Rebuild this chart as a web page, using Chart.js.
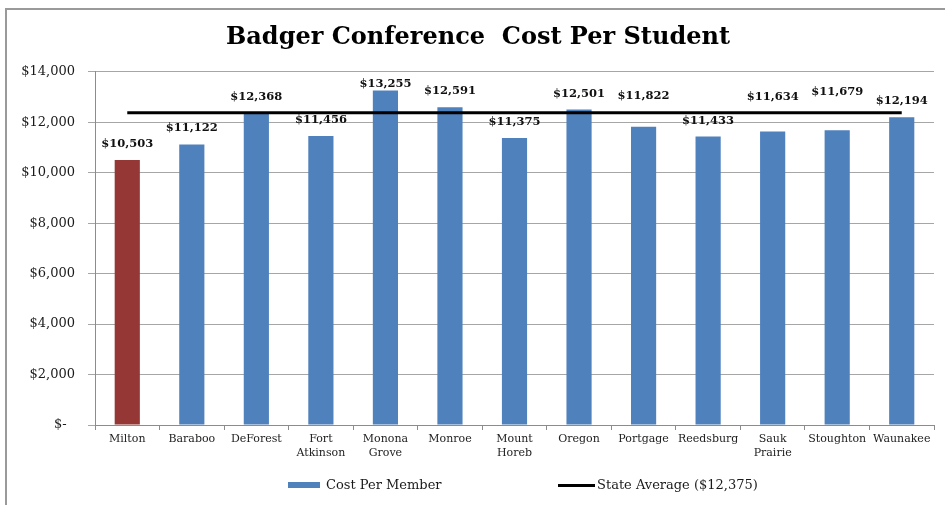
<!DOCTYPE html>
<html>
<head>
<meta charset="utf-8">
<title>Badger Conference Cost Per Student</title>
<script src="https://cdn.jsdelivr.net/npm/chart.js@4/dist/chart.umd.min.js"></script>
<style>
  html, body { margin: 0; padding: 0; background: #fff; }
  #wrap { position: relative; width: 945px; height: 505px; overflow: hidden; }
  #frame {
    position: absolute; left: 5px; top: 8px; width: 980px; height: 540px;
    border-left: 2px solid #9a9a9a; border-top: 2px solid #9a9a9a;
  }
  #chart { position: absolute; left: 0; top: 0; }
  #legend { position: absolute; left: 0; top: 476px; width: 945px; height: 20px;
    font: 13px "DejaVu Serif"; color: #1a1a1a; }
  .legend-text { position: absolute; top: 0; line-height: 18px; white-space: nowrap; }
  .legend-mark { position: absolute; }
</style>
</head>
<body>
<div id="wrap">
  <div id="frame"></div>
  <canvas id="chart" width="945" height="505"></canvas>
  <div id="legend"></div>
</div>
<script>
// 카테고리 (학교)
const categories = [
  'Milton', 'Baraboo', 'DeForest', ['Fort', 'Atkinson'], ['Monona', 'Grove'],
  'Monroe', ['Mount', 'Horeb'], 'Oregon', 'Portgage', 'Reedsburg',
  ['Sauk', 'Prairie'], 'Stoughton', 'Waunakee'
];

// 학생당 비용
const costPerMember = [
  10503, 11122, 12368, 11456, 13255, 12591, 11375,
  12501, 11822, 11433, 11634, 11679, 12194
];

// 주 평균 ($12,375)
const stateAverage = [
  12375, 12375, 12375, 12375, 12375, 12375, 12375,
  12375, 12375, 12375, 12375, 12375, 12375
];

// y축 눈금
const yMin = 0;
const yMax = 14000;
const yStep = 2000;

const seriesNames = ['Cost Per Member', 'State Average ($12,375)'];

const memberColor = '#4F81BD';
const miltonColor = '#953735';
const fontFamily = '"DejaVu Serif", "Liberation Serif", serif';

// 값 라벨 위치 보정 (선과 겹치지 않게)
const labelLift = { 4: -9, 8: 15, 10: 18, 11: 22 };

const money = v => '$' + v.toLocaleString('en-US');

// 막대 위 값 라벨
const barValueLabels = {
  id: 'barValueLabels',
  afterDatasetsDraw(chart) {
    const meta = chart.getDatasetMeta(0);
    const ctx = chart.ctx;
    ctx.save();
    ctx.font = 'bold 11.5px ' + fontFamily;
    ctx.fillStyle = '#111';
    ctx.textAlign = 'center';
    ctx.textBaseline = 'middle';
    meta.data.forEach((bar, i) => {
      const lift = 16 + (labelLift[i] || 0);
      ctx.fillText(money(costPerMember[i]), bar.x, bar.y - lift);
    });
    ctx.restore();
  }
};

const chart = new Chart(document.getElementById('chart'), {
  type: 'bar',
  data: {
    labels: categories,
    datasets: [{
      type: 'bar',
      label: seriesNames[0],
      data: costPerMember,
      backgroundColor: costPerMember.map((_, i) => i === 0 ? miltonColor : memberColor),
      barPercentage: 0.39,
      categoryPercentage: 1,
      order: 1
    }, {
      type: 'line',
      label: seriesNames[1],
      data: stateAverage,
      borderColor: '#000',
      borderWidth: 3,
      pointRadius: 0,
      fill: false,
      order: 0
    }]
  },
  options: {
    responsive: false,
    animation: false,
    layout: { padding: { left: 22, right: 11, top: 0, bottom: 0 } },
    plugins: {
      legend: { display: false },
      tooltip: { enabled: false },
      title: {
        display: true,
        text: 'Badger Conference  Cost Per Student',
        color: '#000',
        font: { family: fontFamily, size: 24, weight: 'bold' },
        padding: { top: 23, bottom: 20 }
      }
    },
    scales: {
      x: {
        offset: true,
        grid: { offset: true, drawOnChartArea: false, tickLength: 5, color: '#8c8c8c' },
        border: { color: '#8c8c8c' },
        ticks: {
          autoSkip: false, maxRotation: 0, padding: 3,
          color: '#222',
          font: { family: fontFamily, size: 11 }
        },
        afterFit: s => { s.height = 80; }
      },
      y: {
        min: yMin,
        max: yMax,
        grid: { color: '#a6a6a6', tickLength: 7 },
        border: { color: '#8c8c8c' },
        ticks: {
          stepSize: yStep,
          padding: 13,
          color: '#1a1a1a',
          font: { family: fontFamily, size: 13 },
          callback: v => v === 0 ? '$-  ' : money(v)
        },
        afterFit: s => { s.width = 73; }
      }
    }
  },
  plugins: [barValueLabels]
});

// HTML 범례
const $legend = document.getElementById('legend');
const legendItems = [
  { mark: { left: 288, top: 6, width: 32, height: 6, background: memberColor }, text: seriesNames[0], left: 326 },
  { mark: { left: 558, top: 8, width: 37, height: 3, background: '#000' }, text: seriesNames[1], left: 597 }
];
legendItems.forEach(item => {
  const m = document.createElement('div');
  m.className = 'legend-mark';
  Object.entries(item.mark).forEach(([k, v]) => { m.style[k] = typeof v === 'number' ? v + 'px' : v; });
  $legend.appendChild(m);
  const t = document.createElement('div');
  t.className = 'legend-text';
  t.style.left = item.left + 'px';
  t.textContent = item.text;
  $legend.appendChild(t);
});
</script>
</body>
</html>
